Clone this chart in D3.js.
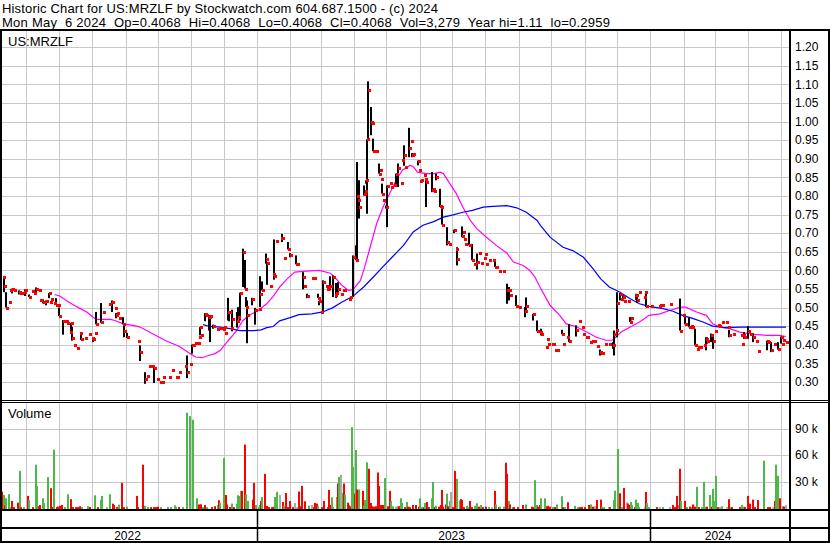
<!DOCTYPE html>
<html>
<head>
<meta charset="utf-8">
<script src="https://cdn.jsdelivr.net/npm/d3@7"></script>
<style>
  body { margin: 0; background: #fff; }
  svg text { font-family: "Liberation Sans", Arial, sans-serif; fill: #000; }
</style>
</head>
<body>
<svg id="chart" width="830" height="543"></svg>
<script>
// header lines
const title1 = 'Historic Chart for US:MRZLF by Stockwatch.com 604.687.1500 - (c) 2024';
const title2 = 'Mon May  6 2024  Op=0.4068  Hi=0.4068  Lo=0.4068  Cl=0.4068  Vol=3,279  Year hi=1.11  lo=0.2959';
const symbol = 'US:MRZLF';

const priceTicks = [0.30, 0.35, 0.40, 0.45, 0.50, 0.55, 0.60, 0.65, 0.70, 0.75, 0.80, 0.85, 0.90, 0.95, 1.00, 1.05, 1.10, 1.15, 1.20];
const volTicks = [30000, 60000, 90000];
const years = [2022, 2023, 2024];

// daily bars: [date, close, high, low] (high/low only where the day had a range)
const ohlc = [
["2022-05-10",.582],["2022-05-11",.557,.582,.541],["2022-05-13",.500,.541,.500],["2022-05-16",.515],["2022-05-17",.546],
["2022-05-19",.549,.551,.538],["2022-05-20",.546],["2022-05-25",.541,.546,.535],["2022-05-26",.538],["2022-05-27",.539],
["2022-05-30",.541],["2022-05-31",.546,.549,.531],["2022-06-03",.528,.535,.528],["2022-06-06",.544],["2022-06-08",.539],
["2022-06-10",.551,.554,.541],["2022-06-13",.547],["2022-06-14",.519],["2022-06-16",.514,.522,.511],["2022-06-19",.517,.519,.506],
["2022-06-22",.539,.539,.525],["2022-06-23",.515],["2022-06-24",.522],["2022-06-27",.511],["2022-06-28",.508,.525,.508],
["2022-06-30",.508],["2022-07-01",.477,.500,.477],["2022-07-05",.465,.466,.427],["2022-07-08",.465],["2022-07-09",.459],
["2022-07-11",.434],["2022-07-12",.458,.459,.430],["2022-07-13",.417,.448,.411],["2022-07-15",.399],["2022-07-18",.391],
["2022-07-21",.431],["2022-07-22",.415,.431,.413],["2022-07-25",.417],["2022-07-29",.428],["2022-08-01",.418],
["2022-08-02",.414,.419,.407],["2022-08-04",.432],["2022-08-05",.455,.488,.455],["2022-08-09",.461,.512,.459],["2022-08-11",.489],
["2022-08-17",.509],["2022-08-19",.515,.519,.488],["2022-08-22",.498],["2022-08-23",.481,.485,.471],["2022-08-24",.485],
["2022-08-26",.471],["2022-08-30",.455,.474,.455],["2022-08-31",.438,.452,.420],["2022-09-02",.420,.432,.418],["2022-09-13",.411],
["2022-09-14",.380,.398,.356],["2022-09-19",.307,.326,.295],["2022-09-21",.316],["2022-09-23",.342],["2022-09-26",.342],
["2022-09-27",.337,.340,.297],["2022-09-30",.307],["2022-10-03",.300],["2022-10-05",.300],["2022-10-06",.313],
["2022-10-11",.313],["2022-10-14",.331],["2022-10-18",.313],["2022-10-19",.313],["2022-10-21",.326],
["2022-10-26",.342],["2022-10-28",.326,.371,.310],["2022-10-31",.349],["2022-11-02",.398,.400,.376],["2022-11-03",.398],
["2022-11-04",.404],["2022-11-07",.404],["2022-11-08",.420],["2022-11-09",.447,.447,.425],["2022-11-10",.427],
["2022-11-14",.483,.485,.463],["2022-11-15",.481],["2022-11-17",.475,.479,.438],["2022-11-18",.477,.479,.407],["2022-11-21",.450,.454,.443],
["2022-11-25",.443],["2022-11-28",.446],["2022-11-30",.443],["2022-12-01",.447],["2022-12-02",.431],
["2022-12-05",.488,.526,.465],["2022-12-06",.488,.488,.463],["2022-12-08",.445],["2022-12-09",.470,.494,.436],["2022-12-13",.465,.488,.446],
["2022-12-14",.474,.501,.468],["2022-12-16",.539,.540,.465],["2022-12-19",.649,.658,.555],["2022-12-21",.551,.628,.551],["2022-12-22",.501,.528,.501],
["2022-12-23",.479,.519,.404],["2022-12-27",.524,.526,.506],["2022-12-30",.492,.499,.454],
["2023-01-03",.497],["2023-01-04",.535,.584,.501],["2023-01-06",.546,.570,.546],["2023-01-09",.631,.645,.618],["2023-01-10",.619,.619,.561],
["2023-01-13",.558],["2023-01-16",.591],["2023-01-17",.584,.683,.575],["2023-01-19",.680],["2023-01-23",.688],
["2023-01-24",.688,.698,.676],["2023-01-26",.633],["2023-01-30",.656,.676,.656],["2023-02-01",.642,.646,.635],["2023-02-06",.616,.640,.616],
["2023-02-07",.616],["2023-02-13",.582,.595,.549],["2023-02-14",.557],["2023-02-16",.530,.537,.525],["2023-02-21",.579],
["2023-02-23",.579],["2023-02-27",.526,.537,.526],["2023-02-28",.517,.517,.506],["2023-03-01",.488],["2023-03-03",.568,.573,.483],
["2023-03-06",.559],["2023-03-07",.549],["2023-03-08",.555],["2023-03-10",.557,.584,.546],["2023-03-13",.582,.586,.528],
["2023-03-14",.533],["2023-03-15",.540,.566,.526],["2023-03-17",.550,.568,.537],["2023-03-20",.537],["2023-03-22",.546],
["2023-03-23",.548],["2023-03-27",.524],["2023-03-28",.528],["2023-03-31",.635,.640,.528],["2023-04-03",.627,.667,.627],
["2023-04-04",.800,.891,.627],["2023-04-05",.788,.824,.752],["2023-04-06",.770,.842,.739],["2023-04-10",.806,.828,.801],["2023-04-11",.812],
["2023-04-12",.842,.842,.833],["2023-04-13",.952,.952,.752],["2023-04-14",1.084,1.108,.949],["2023-04-17",1.000,1.039,.963],["2023-04-18",.997],
["2023-04-19",.920,.954,.920],["2023-04-21",.920],["2023-04-24",.860,.887,.860],["2023-04-25",.869],["2023-04-26",.846],
["2023-04-27",.806,.833,.806],["2023-04-28",.790],["2023-05-01",.770,.774,.766],["2023-05-02",.826,.828,.716],["2023-05-04",.835],
["2023-05-05",.824],["2023-05-08",.828],["2023-05-10",.858,.860,.824],["2023-05-12",.875,.887,.824],["2023-05-15",.834],
["2023-05-16",.897],["2023-05-17",.909,.936,.881],["2023-05-18",.879],["2023-05-22",.928,.983,.904],["2023-05-24",.947],
["2023-05-25",.909,.915,.904],["2023-05-26",.912],["2023-05-30",.894,.895,.882],["2023-05-31",.869],["2023-06-01",.840],
["2023-06-02",.844],["2023-06-05",.855],["2023-06-06",.846],["2023-06-07",.837,.847,.770],["2023-06-12",.815,.864,.810],
["2023-06-13",.819],["2023-06-14",.812],["2023-06-16",.850,.860,.842],["2023-06-20",.772,.819,.770],["2023-06-21",.770],
["2023-06-22",.723,.767,.723],["2023-06-26",.676,.716,.667],["2023-06-28",.670],["2023-07-03",.707,.709,.700],["2023-07-05",.658],
["2023-07-06",.630,.662,.613],["2023-07-10",.692,.718,.689],["2023-07-11",.703],["2023-07-12",.685],["2023-07-13",.670],
["2023-07-17",.667,.701,.667],["2023-07-20",.627,.671,.627],["2023-07-21",.616],["2023-07-24",.622,.645,.602],["2023-07-26",.646],
["2023-07-28",.619],["2023-07-31",.632],["2023-08-01",.645],["2023-08-02",.616],["2023-08-04",.629],
["2023-08-08",.629],["2023-08-10",.609,.629,.609],["2023-08-11",.610],["2023-08-14",.597],["2023-08-17",.597],
["2023-08-21",.546,.564,.510],["2023-08-23",.546,.555,.519],["2023-08-24",.533],["2023-08-29",.504,.533,.504],["2023-09-01",.501],
["2023-09-07",.490,.501,.474],["2023-09-08",.504,.527,.492],["2023-09-14",.483,.483,.465],["2023-09-18",.438,.465,.436],["2023-09-21",.434],
["2023-09-22",.430,.443,.425],["2023-09-26",.394],["2023-09-27",.416],["2023-09-28",.403],["2023-10-02",.401],
["2023-10-03",.403],["2023-10-05",.387],["2023-10-06",.387],["2023-10-11",.430,.440,.428],["2023-10-12",.401],
["2023-10-16",.420],["2023-10-18",.410,.455,.407],["2023-10-24",.440,.452,.422],["2023-10-27",.463],["2023-10-30",.447],
["2023-10-31",.430],["2023-11-02",.420],["2023-11-03",.422],["2023-11-06",.407],["2023-11-08",.409],
["2023-11-10",.409],["2023-11-13",.396],["2023-11-15",.380,.387,.371],["2023-11-16",.377],["2023-11-17",.377],
["2023-11-20",.403],["2023-11-24",.403],["2023-11-27",.400,.407,.389],["2023-11-28",.428,.438,.371],["2023-11-30",.440],
["2023-12-01",.512,.541,.420],["2023-12-04",.537,.539,.519],["2023-12-05",.524],["2023-12-07",.528,.533,.517],["2023-12-08",.517],
["2023-12-11",.517],["2023-12-13",.461,.474,.461],["2023-12-14",.473,.474,.465],["2023-12-18",.533],["2023-12-19",.534,.537,.521],
["2023-12-20",.520,.533,.512],["2023-12-22",.541],["2023-12-26",.528],["2023-12-27",.541],["2023-12-28",.503,.537,.501],
["2024-01-02",.503],["2024-01-09",.503],["2024-01-10",.506],["2024-01-12",.508],["2024-01-19",.510],
["2024-01-29",.438,.524,.438],["2024-01-31",.479],["2024-02-02",.456,.483,.455],["2024-02-06",.447,.473,.447],["2024-02-08",.449],
["2024-02-09",.447],["2024-02-12",.400,.443,.398],["2024-02-13",.389],["2024-02-14",.395],["2024-02-16",.394],
["2024-02-20",.398],["2024-02-22",.416,.420,.385],["2024-02-23",.411,.420,.403],["2024-02-26",.425,.430,.407],["2024-02-28",.410,.428,.389],
["2024-03-01",.437],["2024-03-04",.452],["2024-03-05",.449],["2024-03-08",.461],["2024-03-11",.461],
["2024-03-13",.447],["2024-03-14",.425,.440,.420],["2024-03-18",.428],["2024-03-25",.425],["2024-03-26",.403],
["2024-03-27",.425],["2024-03-28",.422,.434,.416],["2024-04-01",.438,.450,.416],["2024-04-03",.428],["2024-04-05",.420,.431,.407],
["2024-04-08",.410],["2024-04-10",.383],["2024-04-18",.409,.411,.385],["2024-04-19",.407],["2024-04-22",.385,.407,.380],
["2024-04-25",.401],["2024-04-29",.389,.407,.387],["2024-05-01",.422,.422,.403],["2024-05-02",.403],["2024-05-03",.413],
["2024-05-06",.4068]
];

// moving averages
const maShort = [
["2022-06-27",.535],["2022-07-02",.531],["2022-07-08",.519],["2022-07-14",.508],["2022-07-21",.497],["2022-07-27",.488],
["2022-08-02",.474],["2022-08-05",.468],["2022-08-18",.468],["2022-08-22",.465],["2022-08-30",.456],["2022-09-08",.452],
["2022-09-14",.448],["2022-09-27",.428],["2022-10-09",.410],["2022-10-21",.395],["2022-10-31",.376],["2022-11-05",.367],
["2022-11-11",.365],["2022-11-17",.371],["2022-11-23",.376],["2022-11-28",.385],["2022-12-03",.403],["2022-12-08",.420],
["2022-12-13",.438],["2022-12-19",.465],["2022-12-25",.479],["2023-01-02",.492],["2023-01-10",.510],["2023-01-16",.530],
["2023-01-22",.555],["2023-01-29",.577],["2023-02-05",.595],["2023-02-16",.598],["2023-02-28",.600],["2023-03-10",.592],
["2023-03-14",.582],["2023-03-21",.559],["2023-03-27",.546],["2023-03-31",.548],["2023-04-07",.573],["2023-04-11",.609],
["2023-04-16",.662],["2023-04-22",.725],["2023-04-28",.770],["2023-05-04",.806],["2023-05-10",.842],["2023-05-16",.869],
["2023-05-23",.882],["2023-05-26",.879],["2023-05-30",.864],["2023-06-07",.860],["2023-06-14",.860],["2023-06-20",.864],
["2023-06-23",.860],["2023-06-29",.833],["2023-07-05",.806],["2023-07-11",.770],["2023-07-18",.734],["2023-07-24",.712],
["2023-08-02",.689],["2023-08-11",.667],["2023-08-21",.646],["2023-08-27",.622],["2023-09-05",.613],["2023-09-11",.600],
["2023-09-16",.582],["2023-09-21",.553],["2023-09-30",.506],["2023-10-09",.479],["2023-10-15",.456],["2023-10-24",.449],
["2023-11-03",.434],["2023-11-12",.420],["2023-11-21",.412],["2023-11-27",.412],["2023-12-05",.434],["2023-12-13",.447],
["2023-12-22",.461],["2023-12-31",.479],["2024-01-10",.483],["2024-01-19",.492],["2024-01-29",.501],["2024-02-03",.501],
["2024-02-13",.488],["2024-02-22",.479],["2024-02-28",.456],["2024-03-06",.447],["2024-03-15",.443],["2024-03-24",.434],
["2024-04-06",.428],["2024-04-18",.425],["2024-04-30",.425],["2024-05-06",.422]
];
const maLong = [
["2022-11-12",.454],["2022-11-18",.449],["2022-11-28",.447],["2022-12-07",.443],["2022-12-16",.438],["2022-12-29",.438],
["2023-01-05",.440],["2023-01-10",.446],["2023-01-16",.449],["2023-01-22",.464],["2023-01-31",.472],["2023-02-09",.481],
["2023-02-21",.483],["2023-03-03",.488],["2023-03-12",.499],["2023-03-21",.515],["2023-03-31",.530],["2023-04-10",.555],
["2023-04-19",.582],["2023-04-28",.610],["2023-05-07",.637],["2023-05-17",.667],["2023-05-26",.703],["2023-06-04",.721],
["2023-06-14",.731],["2023-06-23",.743],["2023-07-02",.749],["2023-07-11",.756],["2023-07-20",.761],["2023-07-30",.770],
["2023-08-08",.772],["2023-08-21",.774],["2023-08-30",.768],["2023-09-08",.756],["2023-09-18",.734],["2023-09-21",.721],
["2023-09-30",.689],["2023-10-12",.662],["2023-10-21",.653],["2023-10-31",.635],["2023-11-09",.604],["2023-11-16",.577],
["2023-11-24",.555],["2023-12-04",.541],["2023-12-13",.524],["2023-12-22",.510],["2023-12-31",.503],["2024-01-13",.497],
["2024-01-22",.490],["2024-01-31",.479],["2024-02-10",.470],["2024-02-19",.461],["2024-02-28",.450],["2024-03-10",.446],
["2024-03-25",.447],["2024-04-09",.447],["2024-04-24",.447],["2024-05-06",.447]
];

// volume: [date, shares, u = up / d = down / n = unchanged]
const volume = [
["2022-05-09",18600,"d"],["2022-05-11",14800,"u"],["2022-05-12",3000,"d"],["2022-05-13",11000,"u"],["2022-05-16",15600,"u"],["2022-05-17",1000,"u"],
["2022-05-19",8000,"d"],["2022-05-20",1000,"d"],["2022-05-24",6000,"d"],["2022-05-25",1000,"d"],["2022-05-26",42000,"u"],["2022-05-27",1000,"d"],
["2022-05-30",1000,"u"],["2022-06-02",13700,"d"],["2022-06-03",9000,"u"],["2022-06-07",1000,"d"],["2022-06-10",49000,"u"],["2022-06-11",25000,"u"],
["2022-06-13",2000,"d"],["2022-06-14",3400,"d"],["2022-06-16",11000,"u"],["2022-06-17",5700,"u"],["2022-06-21",35000,"u"],["2022-06-24",22400,"d"],
["2022-06-25",1000,"d"],["2022-06-27",66000,"u"],["2022-06-29",1000,"d"],["2022-06-30",1500,"d"],["2022-07-02",2500,"d"],["2022-07-04",3400,"d"],
["2022-07-07",1000,"u"],["2022-07-10",15600,"u"],["2022-07-12",10000,"d"],["2022-07-14",1000,"d"],["2022-07-17",1000,"d"],["2022-07-19",1000,"d"],
["2022-07-21",2000,"d"],["2022-07-23",1000,"u"],["2022-07-28",2000,"u"],["2022-07-30",1000,"d"],["2022-08-04",14400,"u"],["2022-08-06",1000,"d"],
["2022-08-09",9000,"u"],["2022-08-10",13700,"u"],["2022-08-15",1000,"n"],["2022-08-18",15600,"u"],["2022-08-20",4900,"d"],["2022-08-21",3400,"d"],
["2022-08-24",1000,"d"],["2022-08-26",3800,"u"],["2022-08-29",28500,"d"],["2022-08-31",1000,"d"],["2022-09-02",1500,"u"],["2022-09-12",13700,"d"],
["2022-09-13",1000,"d"],["2022-09-17",49000,"d"],["2022-09-19",2500,"u"],["2022-09-22",1000,"u"],["2022-09-25",1000,"d"],["2022-09-27",1000,"d"],
["2022-09-29",1000,"d"],["2022-10-01",1500,"d"],["2022-10-04",1000,"u"],["2022-10-10",1000,"u"],["2022-10-13",1000,"u"],["2022-10-17",3000,"u"],
["2022-10-18",1500,"u"],["2022-10-21",1000,"d"],["2022-10-24",1000,"u"],["2022-10-28",108000,"u"],["2022-10-31",104000,"u"],["2022-11-03",100000,"u"],
["2022-11-06",11000,"u"],["2022-11-08",4000,"d"],["2022-11-10",4200,"d"],["2022-11-12",1000,"u"],["2022-11-14",3400,"d"],["2022-11-16",1000,"u"],
["2022-11-20",1000,"d"],["2022-11-23",2000,"d"],["2022-11-26",3500,"u"],["2022-11-27",8800,"d"],["2022-11-28",6000,"u"],["2022-12-01",56600,"u"],
["2022-12-03",14800,"d"],["2022-12-04",4000,"d"],["2022-12-07",1000,"d"],["2022-12-09",5000,"u"],["2022-12-11",1000,"d"],["2022-12-13",5000,"u"],
["2022-12-14",14400,"u"],["2022-12-16",13700,"u"],["2022-12-17",19400,"u"],["2022-12-18",19400,"d"],["2022-12-21",71800,"d"],["2022-12-22",15600,"u"],
["2022-12-24",8000,"u"],["2022-12-28",9500,"d"],["2022-12-29",28500,"d"],["2022-12-31",3400,"u"],
["2023-01-03",1000,"u"],["2023-01-04",3400,"u"],["2023-01-05",8000,"d"],["2023-01-06",12500,"u"],["2023-01-08",38700,"d"],["2023-01-10",2300,"d"],
["2023-01-12",1000,"d"],["2023-01-15",1000,"d"],["2023-01-17",1500,"d"],["2023-01-18",12500,"u"],["2023-01-19",1000,"u"],["2023-01-20",18200,"u"],
["2023-01-22",14800,"n"],["2023-01-25",6800,"d"],["2023-01-26",2000,"u"],["2023-01-28",17000,"d"],["2023-01-30",1000,"d"],["2023-02-01",8000,"d"],
["2023-02-03",1000,"d"],["2023-02-05",5700,"n"],["2023-02-07",1000,"n"],["2023-02-09",18600,"d"],["2023-02-10",2000,"d"],["2023-02-12",25000,"d"],
["2023-02-15",7600,"d"],["2023-02-18",2700,"u"],["2023-02-21",3400,"n"],["2023-02-23",1000,"d"],["2023-02-24",5700,"d"],["2023-02-26",5000,"d"],
["2023-02-27",2000,"u"],["2023-03-02",1000,"d"],["2023-03-04",8000,"d"],["2023-03-08",1000,"d"],["2023-03-09",20500,"d"],["2023-03-11",3400,"d"],
["2023-03-12",12000,"u"],["2023-03-13",1000,"u"],["2023-03-16",12500,"u"],["2023-03-17",27700,"d"],["2023-03-18",35300,"u"],["2023-03-20",37600,"n"],
["2023-03-22",17000,"u"],["2023-03-23",27700,"d"],["2023-03-24",14800,"u"],["2023-03-26",6000,"d"],["2023-03-27",3000,"d"],["2023-03-29",2000,"d"],
["2023-03-30",91500,"u"],["2023-03-31",46700,"u"],["2023-04-02",16300,"d"],["2023-04-03",65700,"u"],["2023-04-04",20900,"d"],["2023-04-06",20900,"u"],
["2023-04-09",19400,"d"],["2023-04-10",2600,"u"],["2023-04-11",9000,"u"],["2023-04-13",51600,"u"],["2023-04-15",44400,"d"],["2023-04-17",5700,"d"],
["2023-04-18",2000,"d"],["2023-04-20",1500,"d"],["2023-04-21",2000,"d"],["2023-04-23",40200,"d"],["2023-04-24",25000,"d"],["2023-04-26",3400,"d"],
["2023-04-28",3400,"d"],["2023-04-30",33800,"u"],["2023-05-03",2000,"d"],["2023-05-04",19400,"d"],["2023-05-05",8000,"u"],["2023-05-07",2000,"u"],
["2023-05-10",1500,"n"],["2023-05-12",2000,"u"],["2023-05-13",2000,"d"],["2023-05-15",11000,"u"],["2023-05-16",5700,"u"],["2023-05-18",1000,"d"],
["2023-05-20",6800,"u"],["2023-05-21",1500,"d"],["2023-05-23",1000,"d"],["2023-05-26",3400,"d"],["2023-05-29",3400,"d"],["2023-05-31",1500,"d"],
["2023-06-01",11000,"u"],["2023-06-03",1000,"u"],["2023-06-05",1000,"d"],["2023-06-06",5700,"u"],["2023-06-08",6800,"d"],["2023-06-10",1000,"d"],
["2023-06-12",11000,"u"],["2023-06-13",29600,"u"],["2023-06-15",1000,"d"],["2023-06-16",2500,"u"],["2023-06-19",1500,"d"],["2023-06-21",3400,"d"],
["2023-06-22",20500,"d"],["2023-06-23",1500,"d"],["2023-06-25",4000,"d"],["2023-06-26",16300,"u"],["2023-06-27",2000,"d"],["2023-06-29",8000,"u"],
["2023-06-30",18200,"n"],["2023-07-02",1000,"d"],["2023-07-04",42000,"d"],["2023-07-06",33000,"u"],["2023-07-08",8400,"u"],["2023-07-09",10000,"d"],
["2023-07-10",9000,"d"],["2023-07-12",1000,"d"],["2023-07-15",2500,"u"],["2023-07-17",1000,"u"],["2023-07-18",8000,"d"],["2023-07-20",1000,"d"],
["2023-07-22",2500,"u"],["2023-07-24",5300,"u"],["2023-07-26",1500,"d"],["2023-07-28",3400,"u"],["2023-07-30",1000,"d"],["2023-08-02",1500,"d"],
["2023-08-04",1000,"u"],["2023-08-07",1000,"n"],["2023-08-10",19400,"d"],["2023-08-11",4000,"u"],["2023-08-14",1000,"d"],["2023-08-15",1500,"u"],
["2023-08-18",1500,"u"],["2023-08-20",51300,"d"],["2023-08-21",38700,"d"],["2023-08-23",8000,"u"],["2023-08-24",4000,"d"],["2023-08-27",1000,"u"],
["2023-08-28",1000,"d"],["2023-08-31",1000,"d"],["2023-09-05",3400,"d"],["2023-09-08",4000,"u"],["2023-09-13",1500,"d"],["2023-09-14",1000,"d"],
["2023-09-16",31500,"u"],["2023-09-18",3400,"u"],["2023-09-19",1500,"d"],["2023-09-21",3400,"d"],["2023-09-22",11000,"u"],["2023-09-25",11000,"u"],
["2023-09-27",2000,"d"],["2023-09-28",2500,"d"],["2023-09-30",1500,"d"],["2023-10-03",1000,"u"],["2023-10-05",1000,"d"],["2023-10-06",4000,"u"],
["2023-10-11",13300,"u"],["2023-10-12",1000,"d"],["2023-10-14",1000,"u"],["2023-10-17",6500,"d"],["2023-10-23",2500,"u"],["2023-10-26",1000,"u"],
["2023-10-28",1000,"d"],["2023-10-30",1000,"d"],["2023-11-01",1000,"d"],["2023-11-05",3400,"d"],["2023-11-07",4000,"u"],["2023-11-09",1500,"d"],
["2023-11-11",2000,"n"],["2023-11-13",9000,"d"],["2023-11-16",9500,"d"],["2023-11-17",1500,"u"],["2023-11-19",1000,"u"],["2023-11-24",1000,"n"],
["2023-11-25",1000,"d"],["2023-11-28",9000,"u"],["2023-11-29",19700,"u"],["2023-12-02",66800,"u"],["2023-12-04",16700,"d"],["2023-12-06",1000,"u"],
["2023-12-08",22600,"d"],["2023-12-10",6500,"n"],["2023-12-11",5000,"d"],["2023-12-12",3400,"d"],["2023-12-14",6800,"u"],["2023-12-15",3400,"u"],
["2023-12-18",1000,"d"],["2023-12-19",9500,"u"],["2023-12-21",5700,"u"],["2023-12-22",1000,"u"],["2023-12-27",1000,"n"],["2023-12-28",18200,"d"],
["2023-12-29",5700,"u"],["2023-12-31",1000,"u"],
["2024-01-07",1000,"d"],["2024-01-10",1000,"n"],["2024-01-13",1000,"u"],["2024-01-19",1000,"n"],["2024-01-22",3400,"d"],["2024-01-24",1000,"d"],
["2024-01-26",13700,"d"],["2024-01-28",3400,"u"],["2024-01-29",44400,"d"],["2024-01-30",8000,"u"],["2024-02-02",8000,"d"],["2024-02-04",1000,"u"],
["2024-02-07",1500,"d"],["2024-02-09",1000,"u"],["2024-02-10",4000,"d"],["2024-02-12",1500,"d"],["2024-02-13",23900,"u"],["2024-02-15",1000,"d"],
["2024-02-18",1000,"u"],["2024-02-20",29600,"u"],["2024-02-22",1000,"u"],["2024-02-23",1500,"d"],["2024-02-25",14800,"u"],["2024-02-27",1500,"d"],
["2024-02-28",21600,"u"],["2024-03-01",8000,"u"],["2024-03-02",36400,"u"],["2024-03-04",1000,"d"],["2024-03-06",1000,"n"],["2024-03-08",2000,"u"],
["2024-03-12",1000,"n"],["2024-03-14",10000,"d"],["2024-03-16",1000,"u"],["2024-03-17",1000,"d"],["2024-03-24",1000,"d"],["2024-03-26",3400,"u"],
["2024-03-28",1500,"u"],["2024-03-29",1000,"d"],["2024-04-01",13700,"d"],["2024-04-03",5000,"d"],["2024-04-05",9500,"d"],["2024-04-07",1000,"d"],
["2024-04-10",9000,"d"],["2024-04-16",53500,"u"],["2024-04-19",1000,"d"],["2024-04-21",1000,"d"],["2024-04-24",1000,"n"],["2024-04-26",8000,"d"],
["2024-04-27",49000,"u"],["2024-04-29",36400,"u"],["2024-04-30",11000,"d"],["2024-05-03",2000,"u"],["2024-05-04",1500,"d"],["2024-05-06",3279,"n"]
];

const parse = d3.timeParse('%Y-%m-%d');
const svg = d3.select('#chart');
const W = 830, H = 543;
const left = 2, right = 790;          // plot area edges
const pTop = 31, pBot = 400;          // price panel
const vTop = 403, vBot = 509;         // volume panel
const gridColor = '#c8c8c8';
const volColor = { u: '#4cb848', d: '#ff0000', n: '#aaaaaa' };

const x = d3.scaleTime()
  .domain([parse('2023-01-01'), parse('2024-05-06')])
  .range([257, 786]);
const y = d3.scaleLinear().domain([0.25, 1.25]).range([400.5, 28.5]);
const yv = d3.scaleLinear().domain([0, 120000]).range([508, 402]);

const px = v => Math.round(v) + 0.5;
// keep the runs of spaces in the header
const keepSpaces = s => s.replace(/ {2}/g, ' \u00a0');

// clip paths
const defs = svg.append('defs');
defs.append('clipPath').attr('id', 'clipP').append('rect')
  .attr('x', left).attr('y', pTop).attr('width', right - left).attr('height', pBot - pTop);
defs.append('clipPath').attr('id', 'clipV').append('rect')
  .attr('x', left).attr('y', vTop).attr('width', right - left).attr('height', vBot - vTop);

// header
svg.append('text').attr('x', 2).attr('y', 12.5).style('font-size', '13px')
  .attr('textLength', 436).attr('lengthAdjust', 'spacing').text(title1);
svg.append('text').attr('x', 2).attr('y', 27.1).style('font-size', '13px')
  .attr('textLength', 608).attr('lengthAdjust', 'spacing').text(keepSpaces(title2));

// grid
const months = d3.timeMonth.range(new Date(2022, 5, 1), new Date(2024, 4, 7));
const grid = svg.append('g').attr('stroke', gridColor).attr('stroke-width', 1);
[[pTop, pBot], [vTop, vBot]].forEach(([t, b]) => {
  grid.selectAll(null).data(months).join('line')
    .attr('x1', d => px(x(d))).attr('x2', d => px(x(d)))
    .attr('y1', t).attr('y2', b);
});
grid.selectAll(null).data(priceTicks).join('line')
  .attr('x1', left).attr('x2', right)
  .attr('y1', d => px(y(d))).attr('y2', d => px(y(d)));
grid.selectAll(null).data(volTicks).join('line')
  .attr('x1', left).attr('x2', right)
  .attr('y1', d => px(yv(d))).attr('y2', d => px(yv(d)));

// moving averages
const line = d3.line().x(d => x(parse(d[0]))).y(d => y(d[1]));
const price = svg.append('g').attr('clip-path', 'url(#clipP)');
price.append('path').datum(maShort).attr('d', line)
  .attr('fill', 'none').attr('stroke', '#ff00ff').attr('stroke-width', 1.2);
price.append('path').datum(maLong).attr('d', line)
  .attr('fill', 'none').attr('stroke', '#0000ff').attr('stroke-width', 1.2);

// high-low bars and close marks
price.selectAll('.hl').data(ohlc.filter(d => d.length > 2)).join('rect')
  .attr('class', 'hl')
  .attr('x', d => Math.round(x(parse(d[0]))) - 1)
  .attr('width', 2)
  .attr('y', d => y(d[2]))
  .attr('height', d => Math.max(1, y(d[3]) - y(d[2])))
  .attr('fill', '#000');
price.selectAll('.cl').data(ohlc).join('rect')
  .attr('class', 'cl')
  .attr('x', d => Math.round(x(parse(d[0]))))
  .attr('y', d => Math.round(y(d[1])) - 1)
  .attr('width', 3).attr('height', 3)
  .attr('fill', '#ff0000');

// volume bars
svg.append('g').attr('clip-path', 'url(#clipV)')
  .selectAll('rect').data(volume).join('rect')
  .attr('x', d => Math.round(x(parse(d[0]))) - 1)
  .attr('width', 2)
  .attr('y', d => yv(d[1]))
  .attr('height', d => yv(0) - yv(d[1]) + 1)
  .attr('fill', d => volColor[d[2]]);

// labels
svg.append('text').attr('x', 8).attr('y', 46).style('font-size', '13px').text(symbol);
svg.append('text').attr('x', 8).attr('y', 418).style('font-size', '13px').text('Volume');

// right axes
const pAxis = svg.append('g').attr('transform', `translate(${right},0)`)
  .call(d3.axisRight(y).tickValues(priceTicks).tickFormat(d3.format('.2f')).tickSize(0).tickPadding(5));
const vAxis = svg.append('g').attr('transform', `translate(${right},0)`)
  .call(d3.axisRight(yv).tickValues(volTicks).tickFormat(d => (d / 1000) + ' k').tickSize(0).tickPadding(5));
[pAxis, vAxis].forEach(a => {
  a.select('.domain').remove();
  a.selectAll('text').style('font-size', '12px').attr('fill', '#000')
    .style('font-family', '"Liberation Sans", Arial, sans-serif');
});

// year row
const yearEdges = years.map(yr => Math.max(left, x(new Date(yr, 0, 1))));
yearEdges.push(right);
svg.selectAll('.yr').data(years).join('text')
  .attr('class', 'yr')
  .attr('x', (d, i) => (yearEdges[i] + yearEdges[i + 1]) / 2 - 2)
  .attr('y', 540)
  .attr('text-anchor', 'middle')
  .style('font-size', '12px')
  .text(d => d);

// frame
const frame = svg.append('g').attr('stroke', '#000');
frame.append('line').attr('x1', 0).attr('x2', W).attr('y1', 30).attr('y2', 30).attr('stroke-width', 2);
frame.append('line').attr('x1', 0).attr('x2', W).attr('y1', 400.5).attr('y2', 400.5).attr('stroke-width', 1);
frame.append('line').attr('x1', 0).attr('x2', W).attr('y1', 402.5).attr('y2', 402.5).attr('stroke-width', 1);
frame.append('line').attr('x1', 0).attr('x2', W).attr('y1', 510).attr('y2', 510).attr('stroke-width', 2);
frame.append('line').attr('x1', 0).attr('x2', W).attr('y1', 528).attr('y2', 528).attr('stroke-width', 2);
frame.append('line').attr('x1', 0).attr('x2', W).attr('y1', 542).attr('y2', 542).attr('stroke-width', 2);
frame.append('line').attr('x1', 1).attr('x2', 1).attr('y1', 29).attr('y2', H).attr('stroke-width', 2);
frame.append('line').attr('x1', right).attr('x2', right).attr('y1', 29).attr('y2', H).attr('stroke-width', 2);
frame.append('line').attr('x1', W - 1).attr('x2', W - 1).attr('y1', 29).attr('y2', H).attr('stroke-width', 2);
years.slice(1).forEach(yr => {
  const xx = px(x(new Date(yr, 0, 1)));
  frame.append('line').attr('x1', xx).attr('x2', xx).attr('y1', 510).attr('y2', H).attr('stroke-width', 1.5);
});
</script>
</body>
</html>
